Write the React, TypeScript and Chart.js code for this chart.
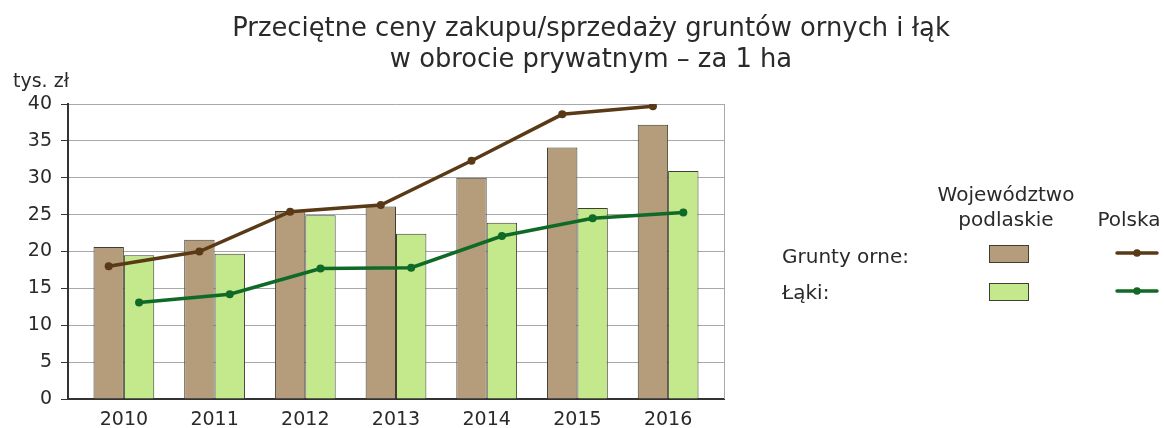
import React, { useEffect, useRef } from 'react';
import { Chart, registerables } from 'chart.js';

Chart.register(...registerables);

// ---- data ----
const years = ['2010', '2011', '2012', '2013', '2014', '2015', '2016'];
const podlaskieOrne = [20.6, 21.6, 25.5, 26.1, 30.0, 34.1, 37.2];
const podlaskieLaki = [19.5, 19.7, 24.9, 22.4, 23.9, 25.9, 30.9];
const polskaOrne = [18.0, 20.0, 25.4, 26.3, 32.3, 38.6, 39.7];
const polskaLaki = [13.1, 14.2, 17.7, 17.8, 22.1, 24.5, 25.3];
const yMin = 0;
const yMax = 40;
const yStep = 5;

const titleLines = [
  'Przeciętne ceny zakupu/sprzedaży gruntów ornych i łąk',
  'w obrocie prywatnym – za 1 ha',
];
const unitLabel = 'tys. zł';
const legendColHeadA = ['Województwo', 'podlaskie'];
const legendColHeadB = 'Polska';
const legendRowLabels = ['Grunty orne:', 'Łąki:'];

// ---- styles ----
const FONT = '"DejaVu Sans", sans-serif';
const TEXT = '#2a2a2a';
const BROWN_BAR = '#b59c7a';
const GREEN_BAR = '#c4e88c';
const BAR_BORDER = '#3e3e32';
const BROWN_LINE = '#5a3a16';
const GREEN_LINE = '#0f6a27';
const GRID = '#a8a8a8';
const AXIS = '#333333';
const CAT_PCT = 0.67;
const X_PAD = 0.116;

const decorPlugin = {
  id: 'decor',
  afterDraw(chart: any) {
    const { ctx, chartArea } = chart;
    ctx.save();
    // right border of plot area
    ctx.strokeStyle = GRID;
    ctx.lineWidth = 1;
    ctx.beginPath();
    ctx.moveTo(Math.round(chartArea.right) + 0.5, chartArea.top);
    ctx.lineTo(Math.round(chartArea.right) + 0.5, chartArea.bottom);
    ctx.stroke();

    ctx.fillStyle = TEXT;
    // title
    ctx.font = `25.8px ${FONT}`;
    ctx.textAlign = 'center';
    ctx.textBaseline = 'alphabetic';
    ctx.fillText(titleLines[0], 591, 36);
    ctx.fillText(titleLines[1], 591, 67);

    // unit
    ctx.font = `19px ${FONT}`;
    ctx.textAlign = 'left';
    ctx.fillText(unitLabel, 13, 87);

    // legend
    ctx.font = `20px ${FONT}`;
    ctx.textAlign = 'center';
    ctx.fillText(legendColHeadA[0], 1006, 201);
    ctx.fillText(legendColHeadA[1], 1006, 226);
    ctx.fillText(legendColHeadB, 1129, 226);
    ctx.textAlign = 'left';
    ctx.fillText(legendRowLabels[0], 782, 263);
    ctx.fillText(legendRowLabels[1], 782, 299);

    const boxes = [
      { y: 245, fill: BROWN_BAR },
      { y: 283, fill: GREEN_BAR },
    ];
    boxes.forEach((b) => {
      ctx.fillStyle = b.fill;
      ctx.fillRect(989, b.y, 39, 17);
      ctx.strokeStyle = BAR_BORDER;
      ctx.lineWidth = 1;
      ctx.strokeRect(989.5, b.y + 0.5, 39, 17);
    });

    const lines = [
      { y: 253, c: BROWN_LINE },
      { y: 291, c: GREEN_LINE },
    ];
    lines.forEach((l) => {
      ctx.strokeStyle = l.c;
      ctx.lineWidth = 3.5;
      ctx.lineCap = 'round';
      ctx.beginPath();
      ctx.moveTo(1117, l.y);
      ctx.lineTo(1157, l.y);
      ctx.stroke();
      ctx.fillStyle = l.c;
      ctx.beginPath();
      ctx.arc(1137, l.y, 3.8, 0, Math.PI * 2);
      ctx.fill();
    });
    ctx.restore();
  },
};

export default function App() {
  const ref = useRef<HTMLCanvasElement | null>(null);

  useEffect(() => {
    if (!ref.current) return;
    const lineShift = CAT_PCT / 4;
    const chart = new Chart(ref.current, {
      type: 'bar',
      data: {
        datasets: [
          {
            type: 'line',
            label: 'Polska – grunty orne',
            data: polskaOrne.map((v, i) => ({ x: i - lineShift, y: v })),
            borderColor: BROWN_LINE,
            backgroundColor: BROWN_LINE,
            borderWidth: 3.5,
            pointRadius: 4,
            pointBorderWidth: 0,
            pointBackgroundColor: BROWN_LINE,
            tension: 0,
            order: 0,
          } as any,
          {
            type: 'line',
            label: 'Polska – łąki',
            data: polskaLaki.map((v, i) => ({ x: i + lineShift, y: v })),
            borderColor: GREEN_LINE,
            backgroundColor: GREEN_LINE,
            borderWidth: 3.5,
            pointRadius: 4,
            pointBorderWidth: 0,
            pointBackgroundColor: GREEN_LINE,
            tension: 0,
            order: 0,
          } as any,
          {
            type: 'bar',
            label: 'Województwo podlaskie – grunty orne',
            data: podlaskieOrne.map((v, i) => ({ x: i, y: v })),
            backgroundColor: BROWN_BAR,
            borderColor: BAR_BORDER,
            borderWidth: 1,
            categoryPercentage: CAT_PCT,
            barPercentage: 1,
            order: 1,
          } as any,
          {
            type: 'bar',
            label: 'Województwo podlaskie – łąki',
            data: podlaskieLaki.map((v, i) => ({ x: i, y: v })),
            backgroundColor: GREEN_BAR,
            borderColor: BAR_BORDER,
            borderWidth: 1,
            categoryPercentage: CAT_PCT,
            barPercentage: 1,
            order: 1,
          } as any,
        ],
      },
      options: {
        responsive: false,
        animation: false,
        events: [],
        layout: { padding: { top: 104, right: 440, bottom: 0, left: 0 } },
        plugins: {
          legend: { display: false },
          tooltip: { enabled: false },
          title: { display: false },
        },
        scales: {
          x: {
            type: 'linear',
            min: -0.5 - X_PAD,
            max: years.length - 0.5 + X_PAD,
            offset: false,
            grid: { display: false },
            border: { display: true, color: AXIS, width: 2 },
            ticks: {
              stepSize: 1,
              includeBounds: false,
              autoSkip: false,
              maxRotation: 0,
              color: TEXT,
              padding: 2,
              font: { family: FONT, size: 19 },
              callback: (v: any) => (Number.isInteger(v) && years[v] !== undefined ? years[v] : ''),
            },
            afterFit: (s: any) => {
              s.height = 29;
            },
          } as any,
          y: {
            min: yMin,
            max: yMax,
            grid: { color: GRID, lineWidth: 1, tickColor: AXIS, tickLength: 7 },
            border: { display: true, color: AXIS, width: 2 },
            ticks: {
              stepSize: yStep,
              color: TEXT,
              padding: 9,
              font: { family: FONT, size: 19 },
            },
            afterFit: (s: any) => {
              s.width = 68;
            },
          },
        },
      },
      plugins: [decorPlugin],
    });
    return () => chart.destroy();
  }, []);

  return (
    <canvas
      ref={ref}
      width={1164}
      height={428}
      style={{ position: 'fixed', left: 0, top: 0, width: 1164, height: 428, background: '#fff' }}
    />
  );
}
